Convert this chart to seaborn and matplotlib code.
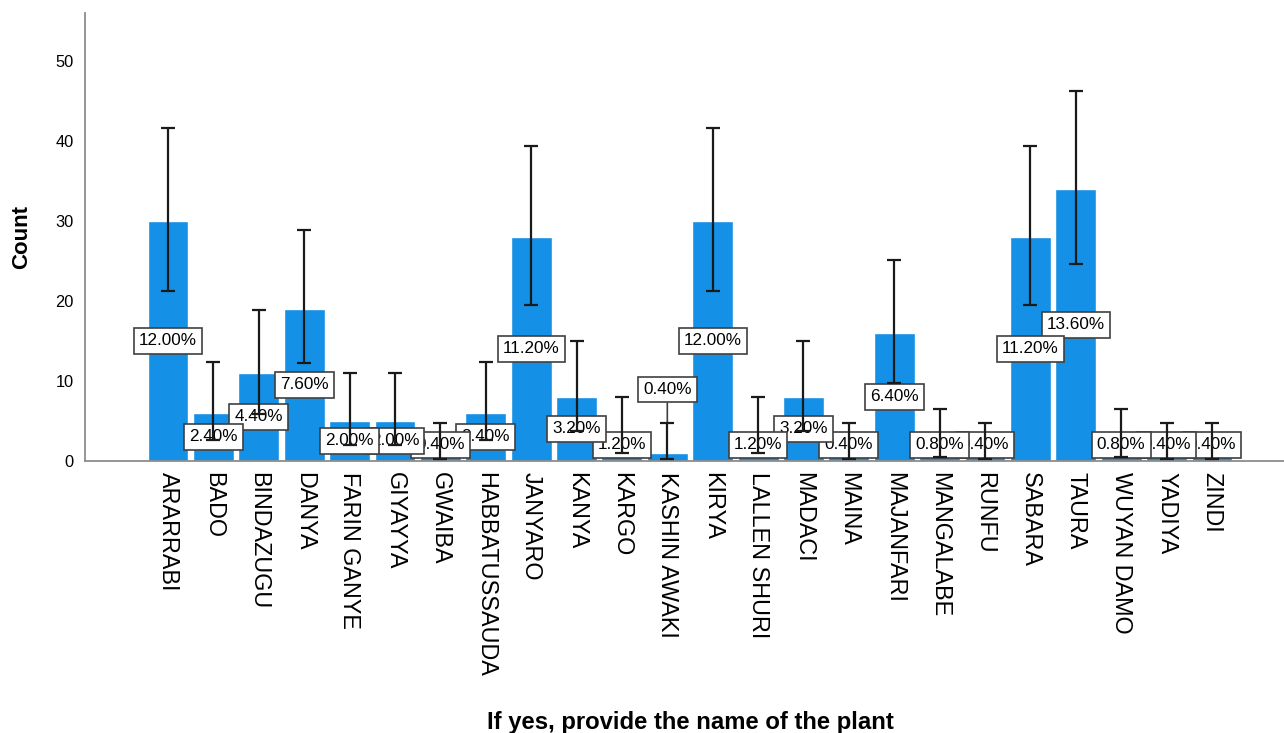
import numpy as np
import seaborn as sns
import matplotlib.pyplot as plt

# Plant names and counts (n = 250)
plants = ['ARARRABI', 'BADO', 'BINDAZUGU', 'DANYA', 'FARIN GANYE', 'GIYAYYA',
          'GWAIBA', 'HABBATUSSAUDA', 'JANYARO', 'KANYA', 'KARGO', 'KASHIN AWAKI',
          'KIRYA', 'LALLEN SHURI', 'MADACI', 'MAINA', 'MAJANFARI', 'MANGALABE',
          'RUNFU', 'SABARA', 'TAURA', 'WUYAN DAMO', 'YADIYA', 'ZINDI']
counts = [30, 6, 11, 19, 5, 5, 1, 6, 28, 8, 3, 1, 30, 3, 8, 1, 16, 2, 1, 28, 34, 2, 1, 1]

# 95% CI
ci_low = [21.2, 2.6, 5.9, 12.2, 2.0, 2.0, 0.2, 2.6, 19.5, 3.8, 1.0, 0.2,
          21.2, 1.0, 3.8, 0.2, 9.8, 0.5, 0.2, 19.5, 24.6, 0.5, 0.2, 0.2]
ci_high = [41.6, 12.4, 18.9, 28.8, 11.0, 11.0, 4.7, 12.4, 39.3, 15.0, 8.0, 4.7,
           41.6, 8.0, 15.0, 4.7, 25.1, 6.5, 4.7, 39.3, 46.2, 6.5, 4.7, 4.7]

pct_labels = ['12.00%', '2.40%', '4.40%', '7.60%', '2.00%', '2.00%', '0.40%', '2.40%',
              '11.20%', '3.20%', '1.20%', '0.40%', '12.00%', '1.20%', '3.20%', '0.40%',
              '6.40%', '0.80%', '0.40%', '11.20%', '13.60%', '0.80%', '0.40%', '0.40%']

sns.set_style('white')
plt.rcParams['font.family'] = ['Liberation Sans', 'DejaVu Sans']
plt.rcParams['text.color'] = 'black'
plt.rcParams['axes.labelcolor'] = 'black'
plt.rcParams['xtick.color'] = 'black'
plt.rcParams['ytick.color'] = 'black'

fig = plt.figure(figsize=(12.84, 7.33), dpi=100)
ax = fig.add_axes([85 / 1284, (733 - 461) / 733, (1295 - 85) / 1284, (461 - 12.7) / 733])

sns.barplot(x=plants, y=counts, order=plants, color='#1490e6', saturation=1,
            width=0.9, errorbar=None, ax=ax, zorder=1)

xs = np.arange(len(plants))
cnt = np.array(counts)
yerr = [cnt - np.array(ci_low), np.array(ci_high) - cnt]
ax.errorbar(xs, cnt, yerr=yerr, fmt='none', ecolor='#1a1a1a', elinewidth=1.6,
            capsize=5, capthick=1.6, zorder=20)

# percentage boxes, left ones drawn on top
label_y = [max(c / 2, 2.0) for c in counts]
box = dict(boxstyle='square,pad=0.3', fc='white', ec='#404040', lw=1.2)
for i, lab in enumerate(pct_labels):
    z = 10 - i * 0.1
    if plants[i] == 'KASHIN AWAKI':
        ax.annotate(lab, xy=(i, ci_high[i]), xytext=(i, 8.9), ha='center', va='center',
                    fontsize=12.3, bbox=box, zorder=z,
                    arrowprops=dict(arrowstyle='-', color='#404040', lw=1.2,
                                    shrinkA=0, shrinkB=0))
    else:
        ax.text(i, label_y[i], lab, ha='center', va='center', fontsize=12.3,
                bbox=box, zorder=z)

ax.set_xlim(-1.83, len(plants) - 1 + 1.83)
ax.set_ylim(0, 56)
ax.set_yticks([0, 10, 20, 30, 40, 50])
ax.tick_params(axis='y', length=0, pad=8, labelsize=11.8)
ax.tick_params(axis='x', length=0, pad=8, labelsize=16.8)
plt.setp(ax.get_xticklabels(), rotation=270, va='top', ha='center')

for s in ['top', 'right']:
    ax.spines[s].set_visible(False)
for s in ['left', 'bottom']:
    ax.spines[s].set_color('#8c8c8c')
    ax.spines[s].set_linewidth(1.3)

ax.set_ylabel('Count', fontsize=16, fontweight='bold')
ax.yaxis.set_label_coords(-53 / 1210, 0.5)
ax.set_xlabel('If yes, provide the name of the plant', fontsize=17.2, fontweight='bold')
ax.xaxis.set_label_coords(0.5, -(711 - 461) / 448.3)
ax.xaxis.label.set_va('top')

fig.savefig('out.png', dpi=100)
